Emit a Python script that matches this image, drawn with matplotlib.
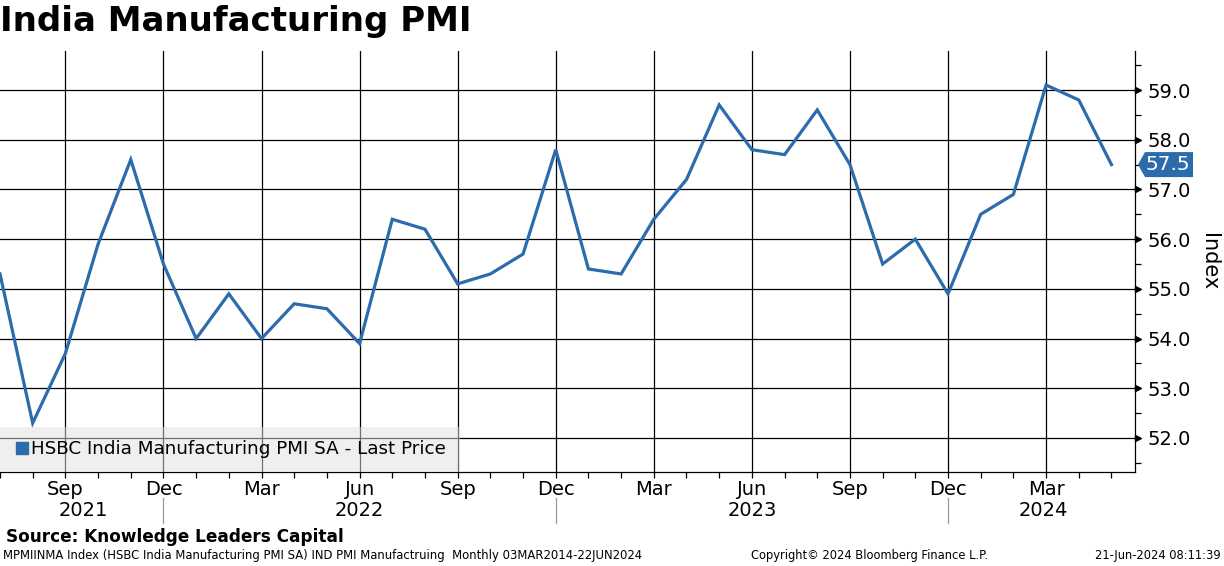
import matplotlib
matplotlib.use('Agg')
import matplotlib.pyplot as plt
from matplotlib.lines import Line2D
from matplotlib.patches import Polygon
import matplotlib.transforms as mtransforms
import numpy as np

plt.rcParams['font.family'] = ['DejaVu Sans']

# monthly HSBC India Manufacturing PMI, Jul 2021 .. May 2024
months = ['Jul', 'Aug', 'Sep', 'Oct', 'Nov', 'Dec',
          'Jan', 'Feb', 'Mar', 'Apr', 'May', 'Jun', 'Jul', 'Aug', 'Sep', 'Oct', 'Nov', 'Dec',
          'Jan', 'Feb', 'Mar', 'Apr', 'May', 'Jun', 'Jul', 'Aug', 'Sep', 'Oct', 'Nov', 'Dec',
          'Jan', 'Feb', 'Mar', 'Apr', 'May']
pmi = [55.3, 52.3, 53.7, 55.9, 57.6, 55.5,
       54.0, 54.9, 54.0, 54.7, 54.6, 53.9, 56.4, 56.2, 55.1, 55.3, 55.7, 57.8,
       55.4, 55.3, 56.4, 57.2, 58.7, 57.8, 57.7, 58.6, 57.5, 55.5, 56.0, 54.9,
       56.5, 56.9, 59.1, 58.8, 57.5]
years = ['2021', '2022', '2023', '2024']
year_pos = [2.55, 11.0, 23.0, 31.9]
year_breaks = [5, 17, 29]
y_ticks = [52, 53, 54, 55, 56, 57, 58, 59]

blue = '#2C6BAC'
x = np.arange(len(pmi))

fig = plt.figure(figsize=(12.24, 5.66), dpi=100)
ax = fig.add_axes([0.0, 1 - 472/566, 1135/1224, (472 - 51)/566])
ax.set_xlim(0, 34.72)
ax.set_ylim(51.316, 59.785)

ax.plot(x, pmi, color=blue, linewidth=2.3, zorder=3, solid_joinstyle='miter')

# grid
major_x = [i for i in range(len(months)) if months[i] in ('Mar', 'Jun', 'Sep', 'Dec')]
ax.set_xticks(major_x)
ax.set_xticklabels([months[i] for i in major_x], fontsize=14)
ax.set_xticks(x, minor=True)
ax.set_yticks(y_ticks)
ax.set_yticklabels(['%.1f' % v for v in y_ticks], fontsize=14)
ax.set_yticks(np.arange(51.5, 59.8, 1.0), minor=True)
ax.grid(True, which='major', color='black', linewidth=0.9, zorder=1)

ax.yaxis.tick_right()
ax.yaxis.set_label_position('right')
ax.tick_params(axis='y', which='major', length=0, pad=9)
ax.tick_params(axis='y', which='minor', length=4, width=0.9, direction='out')
ax.tick_params(axis='x', which='both', length=4, width=0.9, direction='out', pad=2)
for s in ('left', 'top'):
    ax.spines[s].set_visible(False)
for s in ('right', 'bottom'):
    ax.spines[s].set_linewidth(0.9)

# arrow markers at major y ticks
bt = mtransforms.blended_transform_factory(ax.transAxes, ax.transData)
ax.plot([1.0025] * len(y_ticks), y_ticks, linestyle='none', marker='>', markersize=5,
        color='black', transform=bt, clip_on=False)

ax.set_ylabel('Index', fontsize=15, rotation=-90, labelpad=20)

# year labels and separators
bx = mtransforms.blended_transform_factory(ax.transData, fig.transFigure)
for yr, p in zip(years, year_pos):
    ax.text(p, 1 - 511/566, yr, transform=bx, ha='center', va='center', fontsize=14)
for b in year_breaks:
    ax.add_line(Line2D([b, b], [1 - 498/566, 1 - 523/566], transform=bx,
                       color='#999999', linewidth=0.9, clip_on=False))

# legend
leg = ax.legend(handles=[Line2D([], [], marker='s', color=blue, linestyle='none', markersize=9)],
                labels=['HSBC India Manufacturing PMI SA - Last Price'],
                loc='lower left', bbox_to_anchor=(0, 0), borderaxespad=0, fancybox=False,
                frameon=True, facecolor='#E0E0E0', edgecolor='none', framealpha=0.5,
                handletextpad=0.05, handlelength=0.9, borderpad=0.75, fontsize=13.2)
leg.set_zorder(4)

# last value tag
last = pmi[-1]
fig.canvas.draw()
yd = ax.transData.transform((0, last))[1]
xd = ax.transAxes.transform((1, 0))[0]
pts = [(xd + 3, yd), (xd + 10, yd + 12.5), (xd + 58, yd + 12.5), (xd + 58, yd - 12.5), (xd + 10, yd - 12.5)]
pts = fig.transFigure.inverted().transform(pts)
fig.patches.append(Polygon(pts, closed=True, facecolor=blue, edgecolor='none',
                           transform=fig.transFigure, figure=fig))
fx, fy = fig.transFigure.inverted().transform((xd + 33, yd))
fig.text(fx, fy, '%.1f' % last, color='white', fontsize=14.5, ha='center', va='center')

# titles and footer
fig.text(0.0, 1 - 22/566, 'India Manufacturing PMI', fontsize=24.5, weight='bold', va='center', ha='left')
fig.text(6/1224, 1 - 537/566, 'Source: Knowledge Leaders Capital', fontsize=12.2, weight='bold',
         va='center', ha='left')
fig.text(3/1224, 1 - 556/566,
         'MPMIINMA Index (HSBC India Manufacturing PMI SA) IND PMI Manufactruing  Monthly 03MAR2014-22JUN2024',
         fontsize=8.4, va='center', ha='left')
fig.text(751/1224, 1 - 556/566, 'Copyright\u00a9 2024 Bloomberg Finance L.P.', fontsize=8.3,
         va='center', ha='left')
fig.text(1221/1224, 1 - 556/566, '21-Jun-2024 08:11:39', fontsize=8.3, va='center', ha='right')

fig.savefig('out.png', dpi=100, facecolor='white')
plt.close()
